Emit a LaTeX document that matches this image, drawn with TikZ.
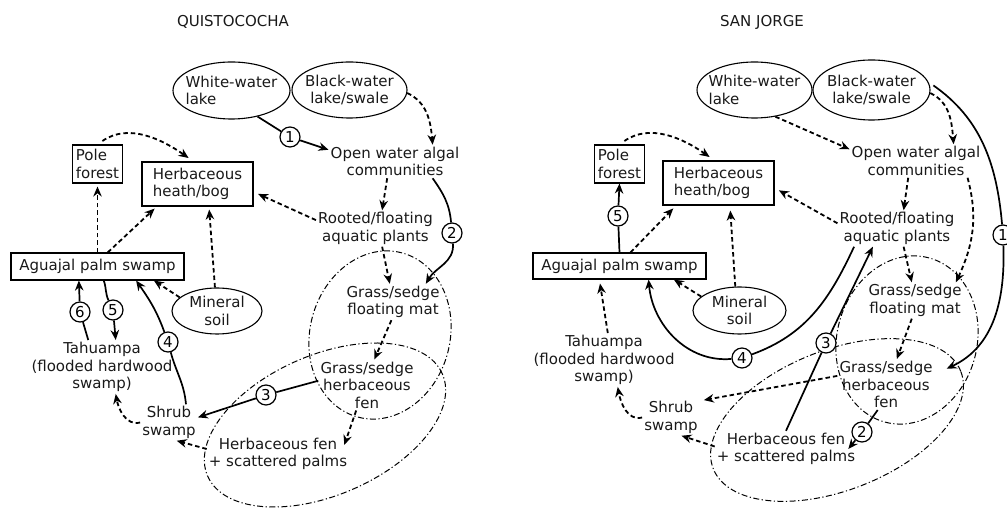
\documentclass[tikz,border=0pt]{standalone}
\usepackage{fontspec}
\setmainfont{DejaVu Sans}
\usetikzlibrary{arrows.meta,shapes.geometric,calc}
\newcommand\myfs{\fontsize{15}{17.5}\selectfont}
\tikzset{
 lbl/.style={font=\myfs, align=center, inner sep=2pt, text=black!90},
 boxn/.style={draw, line width=1.1pt, font=\myfs, align=left, inner sep=3pt, text=black!90},
 ell/.style={ellipse, draw, line width=1.1pt, font=\myfs, inner sep=-10pt, text=black!90},
 num/.style={circle, draw, line width=1.2pt, fill=white, minimum size=20pt, inner sep=0pt, font=\myfs},
 sol/.style={line width=1.7pt, -{Stealth[length=10pt,width=8.5pt]}},
 solnt/.style={line width=1.7pt},
 dsh/.style={line width=1.8pt, dash pattern=on 4.5pt off 3pt, -{Stealth[length=10pt,width=8.5pt]}},
 ddot/.style={line width=1pt, dash pattern=on 6pt off 2.5pt on 1.2pt off 2.5pt},
}
\begin{document}
\begin{tikzpicture}[x=1pt,y=1pt]
\useasboundingbox (0,0) rectangle (1007,508);
% ---------------- LEFT PANEL ----------------
\node[lbl] (Lt) at (233,486) {QUISTOCOCHA};
\node[ell, minimum width=117pt, minimum height=57pt, align=left] (Lww) at (231.5,417.5) {White-water\\lake};
\node[ell, minimum width=115pt, minimum height=56pt, align=center] (Lbw) at (349.5,418) {Black-water\\lake/swale};
\node[lbl] (Low) at (395,346.5) {Open water algal\\communities};
\node[lbl] (Lrf) at (375.5,279.5) {Rooted/floating\\aquatic plants};
\node[boxn, minimum width=49pt, minimum height=38pt] (Lpf) at (97.5,344) {Pole\\forest};
\node[boxn, minimum width=111pt, minimum height=44pt] (Lhh) at (197.5,324) {Herbaceous\\heath/bog};
\node[boxn, minimum width=173pt, minimum height=27pt, align=center] (Lag) at (97.5,241.5) {Aguajal palm swamp};
\node[ell, minimum width=90pt, minimum height=46pt, align=center] (Lms) at (217,197) {Mineral\\soil};
\node[lbl] (Ltah) at (102,141) {Tahuampa\\(flooded hardwood\\swamp)};
\node[lbl] (Lshr) at (169,85.5) {Shrub\\swamp};
\node[lbl] (Lgfm) at (393,206) {Grass/sedge\\floating mat};
\node[lbl] (Lghf) at (367,123) {Grass/sedge\\herbaceous\\fen};
\node[lbl] (Lhfp) at (278,54) {Herbaceous fen\\+ scattered palms};

\draw[ddot, rotate around={-15:(380,173)}] (380,173) ellipse [x radius=70, y radius=85];
\draw[ddot, rotate around={23.5:(325,83)}] (325,83) ellipse [x radius=128, y radius=70];

\node[num] (Lc1) at (290,371) {1};
\node[num] (Lc2) at (452,275) {2};
\node[num] (Lc3) at (266,113) {3};
\node[num] (Lc4) at (168,166) {4};
\node[num] (Lc5) at (113,198) {5};
\node[num] (Lc6) at (80,196) {6};

\draw[solnt] (Lww.-45) -- (Lc1);
\draw[sol] (Lc1) -- (Low.170);
\draw[solnt] (Low.-24) to[out=-55,in=95] (Lc2);
\draw[sol] (Lc2) to[out=-85,in=60] (Lgfm.29);
\draw[solnt] (Lghf.175) -- (Lc3);
\draw[sol] (Lc3) -- (Lshr.10);
\draw[solnt] (Lshr.47) to[out=95,in=-75] (Lc4);
\draw[sol] (Lc4) to[out=110,in=-55] (Lag.-20);
\draw[solnt] (Lag.-66) to[out=-70,in=115] (Lc5);
\draw[sol] (Lc5) -- (Ltah.63);
\draw[solnt] (Ltah.117) -- (Lc6);
\draw[sol] (Lc6) -- (Lag.-143);

\draw[dsh] (Lbw.-3) to[out=-25,in=95] (Low.24);
\draw[dsh] (Low.-115) -- (Lrf.70);
\draw[dsh, shorten >=5pt] (Lrf.172) -- (Lhh.-8);
\draw[dsh] (Lrf.-70) -- (Lgfm.100);
\draw[dsh] (Lgfm.-95) -- (Lghf.74);
\draw[dsh] (Lghf.-113) -- ([xshift=-5pt,yshift=9pt]Lhfp.east);
\draw[dsh] (Lhfp.176) -- (Lshr.-67);
\draw[dsh] (Lshr.180) to[out=195,in=-80] (Ltah.-63);
\draw[dsh, shorten >=3pt] (Lag.north) -- (Lpf.south);
\draw[dsh, shorten >=3pt] (Lag.54) -- (Lhh.-151);
\draw[dsh, shorten >=3pt] (Lms.95) -- (Lhh.-63);
\draw[dsh] (Lms.160) -- (Lag.-14);
\draw[dsh, shorten <=6pt, shorten >=6pt] (Lpf.north) to[out=35,in=145] (Lhh.100);

% ---------------- RIGHT PANEL ----------------
\node[lbl] (Rt) at (762,486) {SAN JORGE};
\node[ell, minimum width=115pt, minimum height=56pt, align=left] (Rww) at (754.5,418) {White-water\\lake};
\node[ell, minimum width=117pt, minimum height=60pt, align=center] (Rbw) at (871.5,418) {Black-water\\lake/swale};
\node[lbl] (Row) at (916,347) {Open water algal\\communities};
\node[lbl] (Rrf) at (897,279.5) {Rooted/floating\\aquatic plants};
\node[boxn, minimum width=49pt, minimum height=38pt] (Rpf) at (619.5,344) {Pole\\forest};
\node[boxn, minimum width=111pt, minimum height=44pt] (Rhh) at (718.5,325) {Herbaceous\\heath/bog};
\node[boxn, minimum width=173pt, minimum height=26pt, align=center] (Rag) at (619.5,242) {Aguajal palm swamp};
\node[ell, minimum width=93pt, minimum height=47pt, align=center] (Rms) at (739.5,197.5) {Mineral\\soil};
\node[lbl] (Rtah) at (604,148) {Tahuampa\\(flooded hardwood\\swamp)};
\node[lbl] (Rshr) at (671,90.5) {Shrub\\swamp};
\node[lbl] (Rgfm) at (915,207.5) {Grass/sedge\\floating mat};
\node[lbl] (Rghf) at (886,123.5) {Grass/sedge\\herbaceous\\fen};
\node[lbl] (Rhfp) at (786,59) {Herbaceous fen\\+ scattered palms};

\draw[ddot, rotate around={-15:(907,168)}] (907,168) ellipse [x radius=70, y radius=85];
\draw[ddot, rotate around={21.5:(837,88)}] (837,88) ellipse [x radius=133, y radius=70];

\node[num] (Rc1) at (1003,273) {1};
\node[num] (Rc2) at (862,76) {2};
\node[num] (Rc3) at (826,165) {3};
\node[num] (Rc4) at (742,150) {4};
\node[num] (Rc5) at (618,292) {5};

\draw[dsh] (Rww.-52) -- (Row.170);
\draw[dsh] (Rbw.-3) to[out=-25,in=95] (Row.24);
\draw[dsh] (Row.-115) -- (Rrf.70);
\draw[dsh, shorten >=5pt] (Rrf.175) -- (Rhh.-5);
\draw[dsh] (Row.-18) to[out=-75,in=65] (Rgfm.24);
\draw[dsh] (Rrf.-70) -- (Rgfm.100);
\draw[dsh] (Rgfm.-100) -- (Rghf.67);
\draw[dsh, shorten >=4pt] (Rghf.170) -- (Rshr.30);
\draw[dsh] (Rhfp.178) -- (Rshr.-60);
\draw[dsh] (Rshr.180) to[out=195,in=-80] (Rtah.-63);
\draw[dsh, shorten >=4pt] (Rtah.82) -- (Rag.-146);
\draw[dsh, shorten >=4pt] (Rag.51) -- (Rhh.-152);
\draw[dsh, shorten >=5pt] (Rms.100) -- (Rhh.-63);
\draw[dsh] (Rms.160) -- (Rag.-14);
\draw[dsh, shorten <=6pt, shorten >=6pt] (Rpf.north) to[out=35,in=145] (Rhh.100);

\draw[solnt] (Rag.north) -- (Rc5);
\draw[sol] (Rc5) -- (Rpf.south);
\draw[solnt, shorten <=6pt] (Rbw.8) to[out=-35,in=95] (Rc1);
\draw[sol] (Rc1) to[out=-88,in=25] ([xshift=12pt]Rghf.18);
\draw[solnt] (Rghf.-108) -- (Rc2);
\draw[sol] (Rc2) -- ([xshift=-9pt]Rhfp.east);
\draw[solnt] (Rhfp.north) -- (Rc3);
\draw[sol] (Rc3) -- (Rrf.-143);
\draw[solnt] (Rrf.-157) to[out=-115,in=20] (Rc4);
\draw[sol] (Rc4) to[out=185,in=-85] (Rag.-25);
\end{tikzpicture}
\end{document}
